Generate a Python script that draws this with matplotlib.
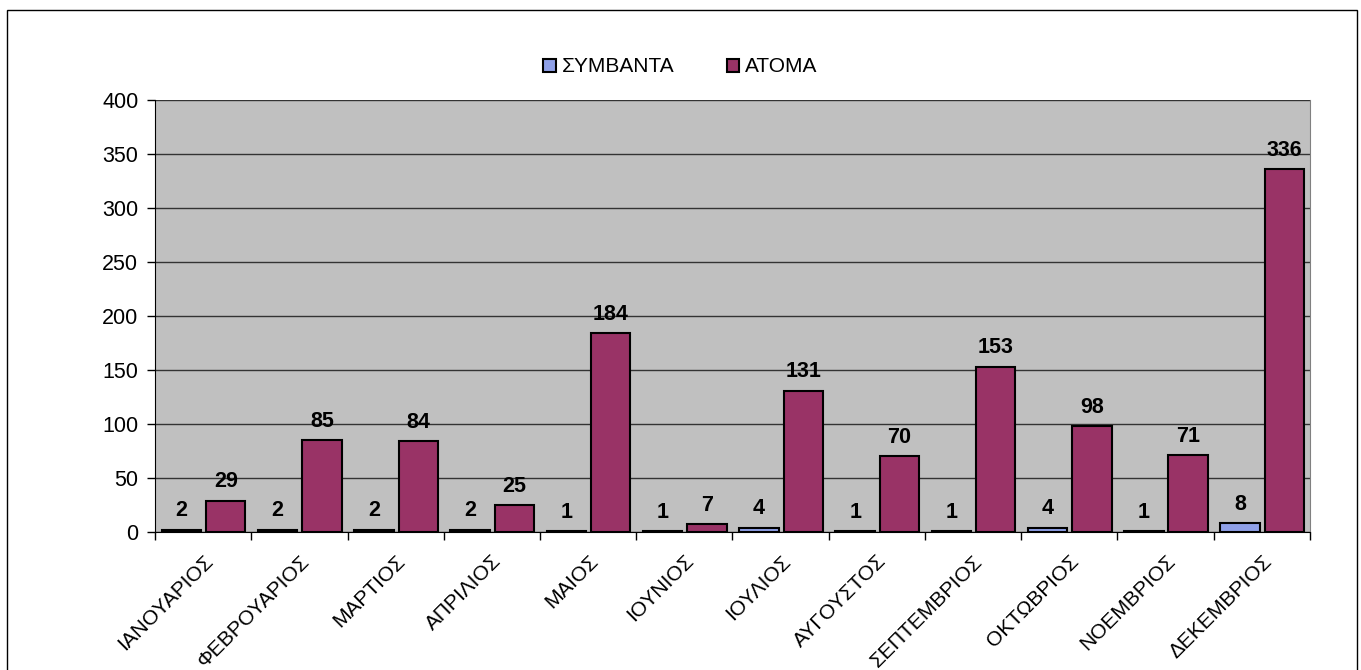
import numpy as np
import matplotlib.pyplot as plt
from matplotlib.patches import Rectangle

plt.rcParams['font.family'] = ['Liberation Sans', 'DejaVu Sans']

# Data
months = ['ΙΑΝΟΥΑΡΙΟΣ', 'ΦΕΒΡΟΥΑΡΙΟΣ', 'ΜΑΡΤΙΟΣ', 'ΑΠΡΙΛΙΟΣ', 'ΜΑΙΟΣ', 'ΙΟΥΝΙΟΣ',
          'ΙΟΥΛΙΟΣ', 'ΑΥΓΟΥΣΤΟΣ', 'ΣΕΠΤΕΜΒΡΙΟΣ', 'ΟΚΤΩΒΡΙΟΣ', 'ΝΟΕΜΒΡΙΟΣ', 'ΔΕΚΕΜΒΡΙΟΣ']
symvanta = [2, 2, 2, 2, 1, 1, 4, 1, 1, 4, 1, 8]
atoma = [29, 85, 84, 25, 184, 7, 131, 70, 153, 98, 71, 336]

blue = '#8fa0e8'
purple = '#993366'

fig = plt.figure(figsize=(13.61, 6.70), dpi=100)
ax = fig.add_axes([0.1139, 0.206, 0.8486, 0.6445])
ax.set_facecolor('#c0c0c0')

x = np.arange(len(months))
w = 0.41
b1 = ax.bar(x - 0.225, symvanta, w, color=blue, edgecolor='black', linewidth=1.5, label='ΣΥΜΒΑΝΤΑ', zorder=3)
b2 = ax.bar(x + 0.235, atoma, w, color=purple, edgecolor='black', linewidth=1.5, label='ΑΤΟΜΑ', zorder=3)

for bars, vals in ((b1, symvanta), (b2, atoma)):
    for rect, v in zip(bars, vals):
        ax.annotate(str(v), (rect.get_x() + rect.get_width() / 2, v),
                    xytext=(0, 6), textcoords='offset points',
                    ha='center', va='bottom', fontsize=15.5, fontweight='bold', zorder=4)

ax.set_xlim(-0.5, len(months) - 0.5)
ax.set_ylim(0, 400)
ax.set_yticks(np.arange(0, 401, 50))
ax.yaxis.grid(True, color='#333333', linewidth=1, zorder=1)
ax.tick_params(axis='y', labelsize=15.5, length=6, width=1, pad=6)

ax.set_xticks(x)
ax.set_xticklabels(months, rotation=45, ha='right', rotation_mode='anchor', fontsize=15)
ax.tick_params(axis='x', which='major', length=0, pad=14)
ax.set_xticks(np.arange(-0.5, len(months)), minor=True)
ax.tick_params(axis='x', which='minor', length=6, width=1)

ax.spines['left'].set_color('black')
ax.spines['bottom'].set_color('black')
ax.spines['top'].set_visible(False)
ax.spines['right'].set_color('#808080')

fig.legend(handles=[b1, b2], loc='center', bbox_to_anchor=(0.5, 0.9), ncol=2,
           frameon=False, fontsize=15, handlelength=0.6, handleheight=0.6,
           columnspacing=2.5, handletextpad=0.3)

# outer chart border
fig.patches.append(Rectangle((7 / 1361, -0.01), 1350 / 1361, 1 - 10 / 670 + 0.01,
                             transform=fig.transFigure, fill=False,
                             edgecolor='black', linewidth=1))

fig.savefig('out.png', dpi=100)
